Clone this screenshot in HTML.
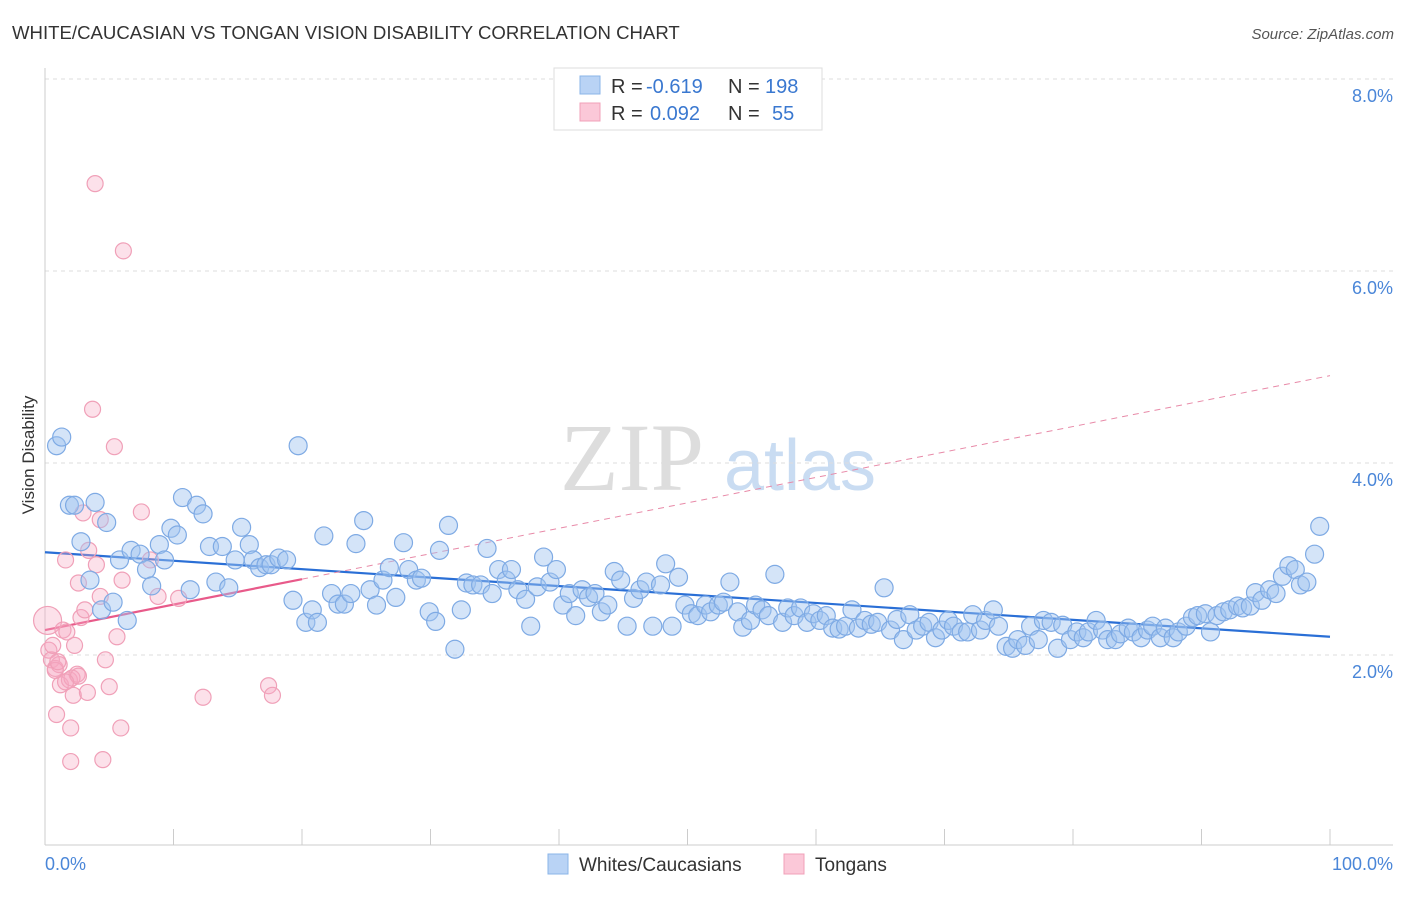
<!DOCTYPE html>
<html><head><meta charset="utf-8"><style>
body{margin:0;background:#fff;font-family:"Liberation Sans",sans-serif;}
svg text{font-family:"Liberation Sans",sans-serif;}
</style></head><body>
<svg id="chart" width="1406" height="892" xmlns="http://www.w3.org/2000/svg">
<text x="12" y="39" font-size="18.6" fill="#333">WHITE/CAUCASIAN VS TONGAN VISION DISABILITY CORRELATION CHART</text>
<text x="1394" y="39" font-size="15" fill="#555" font-style="italic" text-anchor="end">Source: ZipAtlas.com</text>
<g>
<text x="632" y="490" font-size="96" fill="#ddd" text-anchor="middle" font-family="Liberation Serif" style="font-family:'Liberation Serif',serif">ZIP</text>
<text x="800" y="490" font-size="72" fill="#c9dcf2" text-anchor="middle">atlas</text>
</g>
<g id="grid"></g>
<line x1="45" y1="68" x2="45" y2="845" stroke="#ccc"/>
<line x1="45" y1="845" x2="1393" y2="845" stroke="#ccc"/>
<g id="xticks"></g>
<text x="45" y="870" font-size="18" fill="#4a86d8">0.0%</text>
<text x="1393" y="870" font-size="18" fill="#4a86d8" text-anchor="end">100.0%</text>
<text transform="translate(34,455) rotate(-90)" font-size="17" fill="#333" text-anchor="middle">Vision Disability</text>
<g id="trends"></g>
<g id="pink"></g>
<g id="blue"></g>
<g>
<rect x="554" y="68" width="268" height="62" fill="#fff" stroke="#ddd"/>
<rect x="580" y="76" width="20" height="18" fill="#b9d3f5" stroke="#8ab4e8"/>
<rect x="580" y="103" width="20" height="18" fill="#fbc8d8" stroke="#f0a0b8"/>
<text x="611" y="93" font-size="20" fill="#333">R =</text>
<text x="646" y="93" font-size="20" fill="#3a78d0">-0.619</text>
<text x="728" y="93" font-size="20" fill="#333">N =</text>
<text x="765" y="93" font-size="20" fill="#3a78d0">198</text>
<text x="611" y="120" font-size="20" fill="#333">R =</text>
<text x="650" y="120" font-size="20" fill="#3a78d0">0.092</text>
<text x="728" y="120" font-size="20" fill="#333">N =</text>
<text x="772" y="120" font-size="20" fill="#3a78d0">55</text>
</g>
<g>
<rect x="548" y="854" width="20" height="20" fill="#b9d3f5" stroke="#8ab4e8"/>
<text x="579" y="871" font-size="19" fill="#333">Whites/Caucasians</text>
<rect x="784" y="854" width="20" height="20" fill="#fbc8d8" stroke="#f0a0b8"/>
<text x="815" y="871" font-size="19" fill="#333">Tongans</text>
</g>
</svg>
<script>
const yTicks=[2,4,6,8];
const blueX=[0.9,1.3,1.9,2.3,2.8,3.5,3.9,4.4,4.8,5.3,5.8,6.4,6.7,7.4,7.9,8.3,8.9,9.3,9.8,10.3,10.7,11.3,11.8,12.3,12.8,13.3,13.8,14.3,14.8,15.3,15.9,16.2,16.7,17.2,17.6,18.2,18.8,19.3,19.7,20.3,20.8,21.2,21.7,22.3,22.8,23.3,23.8,24.2,24.8,25.3,25.8,26.3,26.8,27.3,27.9,28.3,28.9,29.3,29.9,30.4,30.7,31.4,31.9,32.4,32.8,33.3,33.9,34.4,34.8,35.3,35.9,36.3,36.8,37.4,37.8,38.3,38.8,39.3,39.8,40.3,40.8,41.3,41.8,42.3,42.8,43.3,43.8,44.3,44.8,45.3,45.8,46.3,46.8,47.3,47.9,48.3,48.8,49.3,49.8,50.3,50.8,51.4,51.8,52.4,52.8,53.3,53.9,54.3,54.9,55.3,55.8,56.3,56.8,57.4,57.8,58.3,58.8,59.3,59.8,60.3,60.8,61.3,61.8,62.3,62.8,63.3,63.8,64.3,64.8,65.3,65.8,66.3,66.8,67.3,67.8,68.3,68.8,69.3,69.8,70.3,70.7,71.3,71.8,72.2,72.8,73.2,73.8,74.2,74.8,75.3,75.7,76.3,76.7,77.3,77.7,78.3,78.8,79.2,79.8,80.3,80.8,81.2,81.8,82.3,82.7,83.3,83.7,84.3,84.7,85.3,85.8,86.2,86.8,87.2,87.8,88.2,88.8,89.3,89.7,90.3,90.7,91.2,91.7,92.2,92.8,93.2,93.8,94.2,94.7,95.3,95.8,96.3,96.8,97.3,97.7,98.2,98.8,99.2];
const blueY=[4.18,4.27,3.56,3.56,3.18,2.78,3.59,2.47,3.38,2.55,2.99,2.36,3.09,3.05,2.89,2.72,3.15,2.99,3.32,3.25,3.64,2.68,3.56,3.47,3.13,2.76,3.13,2.70,2.99,3.33,3.15,2.99,2.91,2.94,2.94,3.01,2.99,2.57,4.18,2.34,2.47,2.34,3.24,2.64,2.53,2.53,2.64,3.16,3.40,2.68,2.52,2.78,2.91,2.60,3.17,2.89,2.78,2.80,2.45,2.35,3.09,3.35,2.06,2.47,2.75,2.73,2.73,3.11,2.64,2.89,2.78,2.89,2.68,2.58,2.30,2.71,3.02,2.76,2.89,2.52,2.64,2.41,2.68,2.60,2.64,2.45,2.52,2.87,2.78,2.30,2.59,2.68,2.76,2.30,2.73,2.95,2.30,2.81,2.52,2.43,2.41,2.52,2.45,2.52,2.55,2.76,2.45,2.29,2.36,2.52,2.47,2.41,2.84,2.34,2.49,2.41,2.49,2.34,2.43,2.36,2.41,2.28,2.27,2.30,2.47,2.28,2.36,2.32,2.34,2.70,2.26,2.37,2.16,2.42,2.26,2.30,2.34,2.18,2.26,2.36,2.30,2.24,2.24,2.42,2.26,2.36,2.47,2.30,2.09,2.07,2.16,2.10,2.30,2.16,2.36,2.34,2.07,2.31,2.16,2.24,2.18,2.24,2.36,2.26,2.16,2.16,2.22,2.28,2.24,2.18,2.26,2.30,2.18,2.28,2.18,2.24,2.30,2.39,2.41,2.43,2.24,2.41,2.45,2.47,2.51,2.49,2.51,2.65,2.57,2.68,2.64,2.82,2.93,2.89,2.73,2.76,3.05,3.34];
const pinkX=[0.2,0.3,0.5,0.6,0.8,0.9,1.1,1.2,1.4,1.6,1.7,1.9,2.0,2.0,2.2,2.3,2.5,2.6,2.8,2.96,3.1,3.3,3.4,3.7,3.9,4.0,4.3,4.5,4.7,5.0,5.4,5.6,5.9,6.0,6.1,7.5,8.2,8.8,10.4,12.3,17.4,17.7,0.8,1.0,2.1,2.6,1.6,4.3];
const pinkY=[2.36,2.05,1.95,2.10,1.86,1.38,1.90,1.69,2.26,2.99,2.24,1.74,0.89,1.24,1.58,2.10,1.80,2.75,2.39,3.48,2.47,1.61,3.09,4.56,6.91,2.94,3.41,0.91,1.95,1.67,4.17,2.19,1.24,2.78,6.21,3.49,2.99,2.61,2.59,1.56,1.68,1.58,1.84,1.93,1.76,1.78,1.72,2.61];
const blueTrend=[3.07,-0.0088];
const pinkTrend=[2.26,0.0265];
const NS='http://www.w3.org/2000/svg';
const X=v=>45+v*12.85, Y=v=>847-v*96;
function mk(tag,attrs,parent){const e=document.createElementNS(NS,tag);for(const k in attrs)e.setAttribute(k,attrs[k]);parent.appendChild(e);return e;}
const grid=document.getElementById('grid');
yTicks.forEach(t=>{
 const l=mk('line',{x1:45,x2:1393,y1:Y(t),y2:Y(t),stroke:'#ddd','stroke-dasharray':'4,4'},grid);
 
 
 const tx=mk('text',{x:1393,y:Y(t)+23,'font-size':18,fill:'#4a86d8','text-anchor':'end'},grid);
 tx.textContent=t.toFixed(1)+'%';
 
 
});
const xt=document.getElementById('xticks');
for(let i=0;i<=10;i++){const l=mk('line',{x1:X(i*10),x2:X(i*10),y1:829,y2:845,stroke:'#ccc'},xt);
 
 }
const tr=document.getElementById('trends');
let l1=mk('line',{x1:X(0),y1:Y(blueTrend[0]),x2:X(100),y2:Y(blueTrend[0]+100*blueTrend[1]),stroke:'#2a6fd6','stroke-width':2.2},tr);


let l2=mk('line',{x1:X(20),y1:Y(pinkTrend[0]+20*pinkTrend[1]),x2:X(100),y2:Y(pinkTrend[0]+100*pinkTrend[1]),stroke:'#e88aa8','stroke-width':1,'stroke-dasharray':'6,5'},tr);


let l3=mk('line',{x1:X(0),y1:Y(pinkTrend[0]),x2:X(20),y2:Y(pinkTrend[0]+20*pinkTrend[1]),stroke:'#e85a8a','stroke-width':2.2},tr);


const pg=document.getElementById('pink');
pinkX.forEach((x,i)=>{const c=mk('circle',{cx:X(x),cy:Y(pinkY[i]),r:i==0?14:8,fill:'rgba(246,170,195,0.35)',stroke:'#f0a0b8','stroke-width':1.2},pg);
 
 });
const bg=document.getElementById('blue');
blueX.forEach((x,i)=>{const c=mk('circle',{cx:X(x),cy:Y(blueY[i]),r:9,fill:'rgba(160,195,240,0.45)',stroke:'#7eaae4','stroke-width':1.2},bg);
 
 });
</script>
</body></html>
